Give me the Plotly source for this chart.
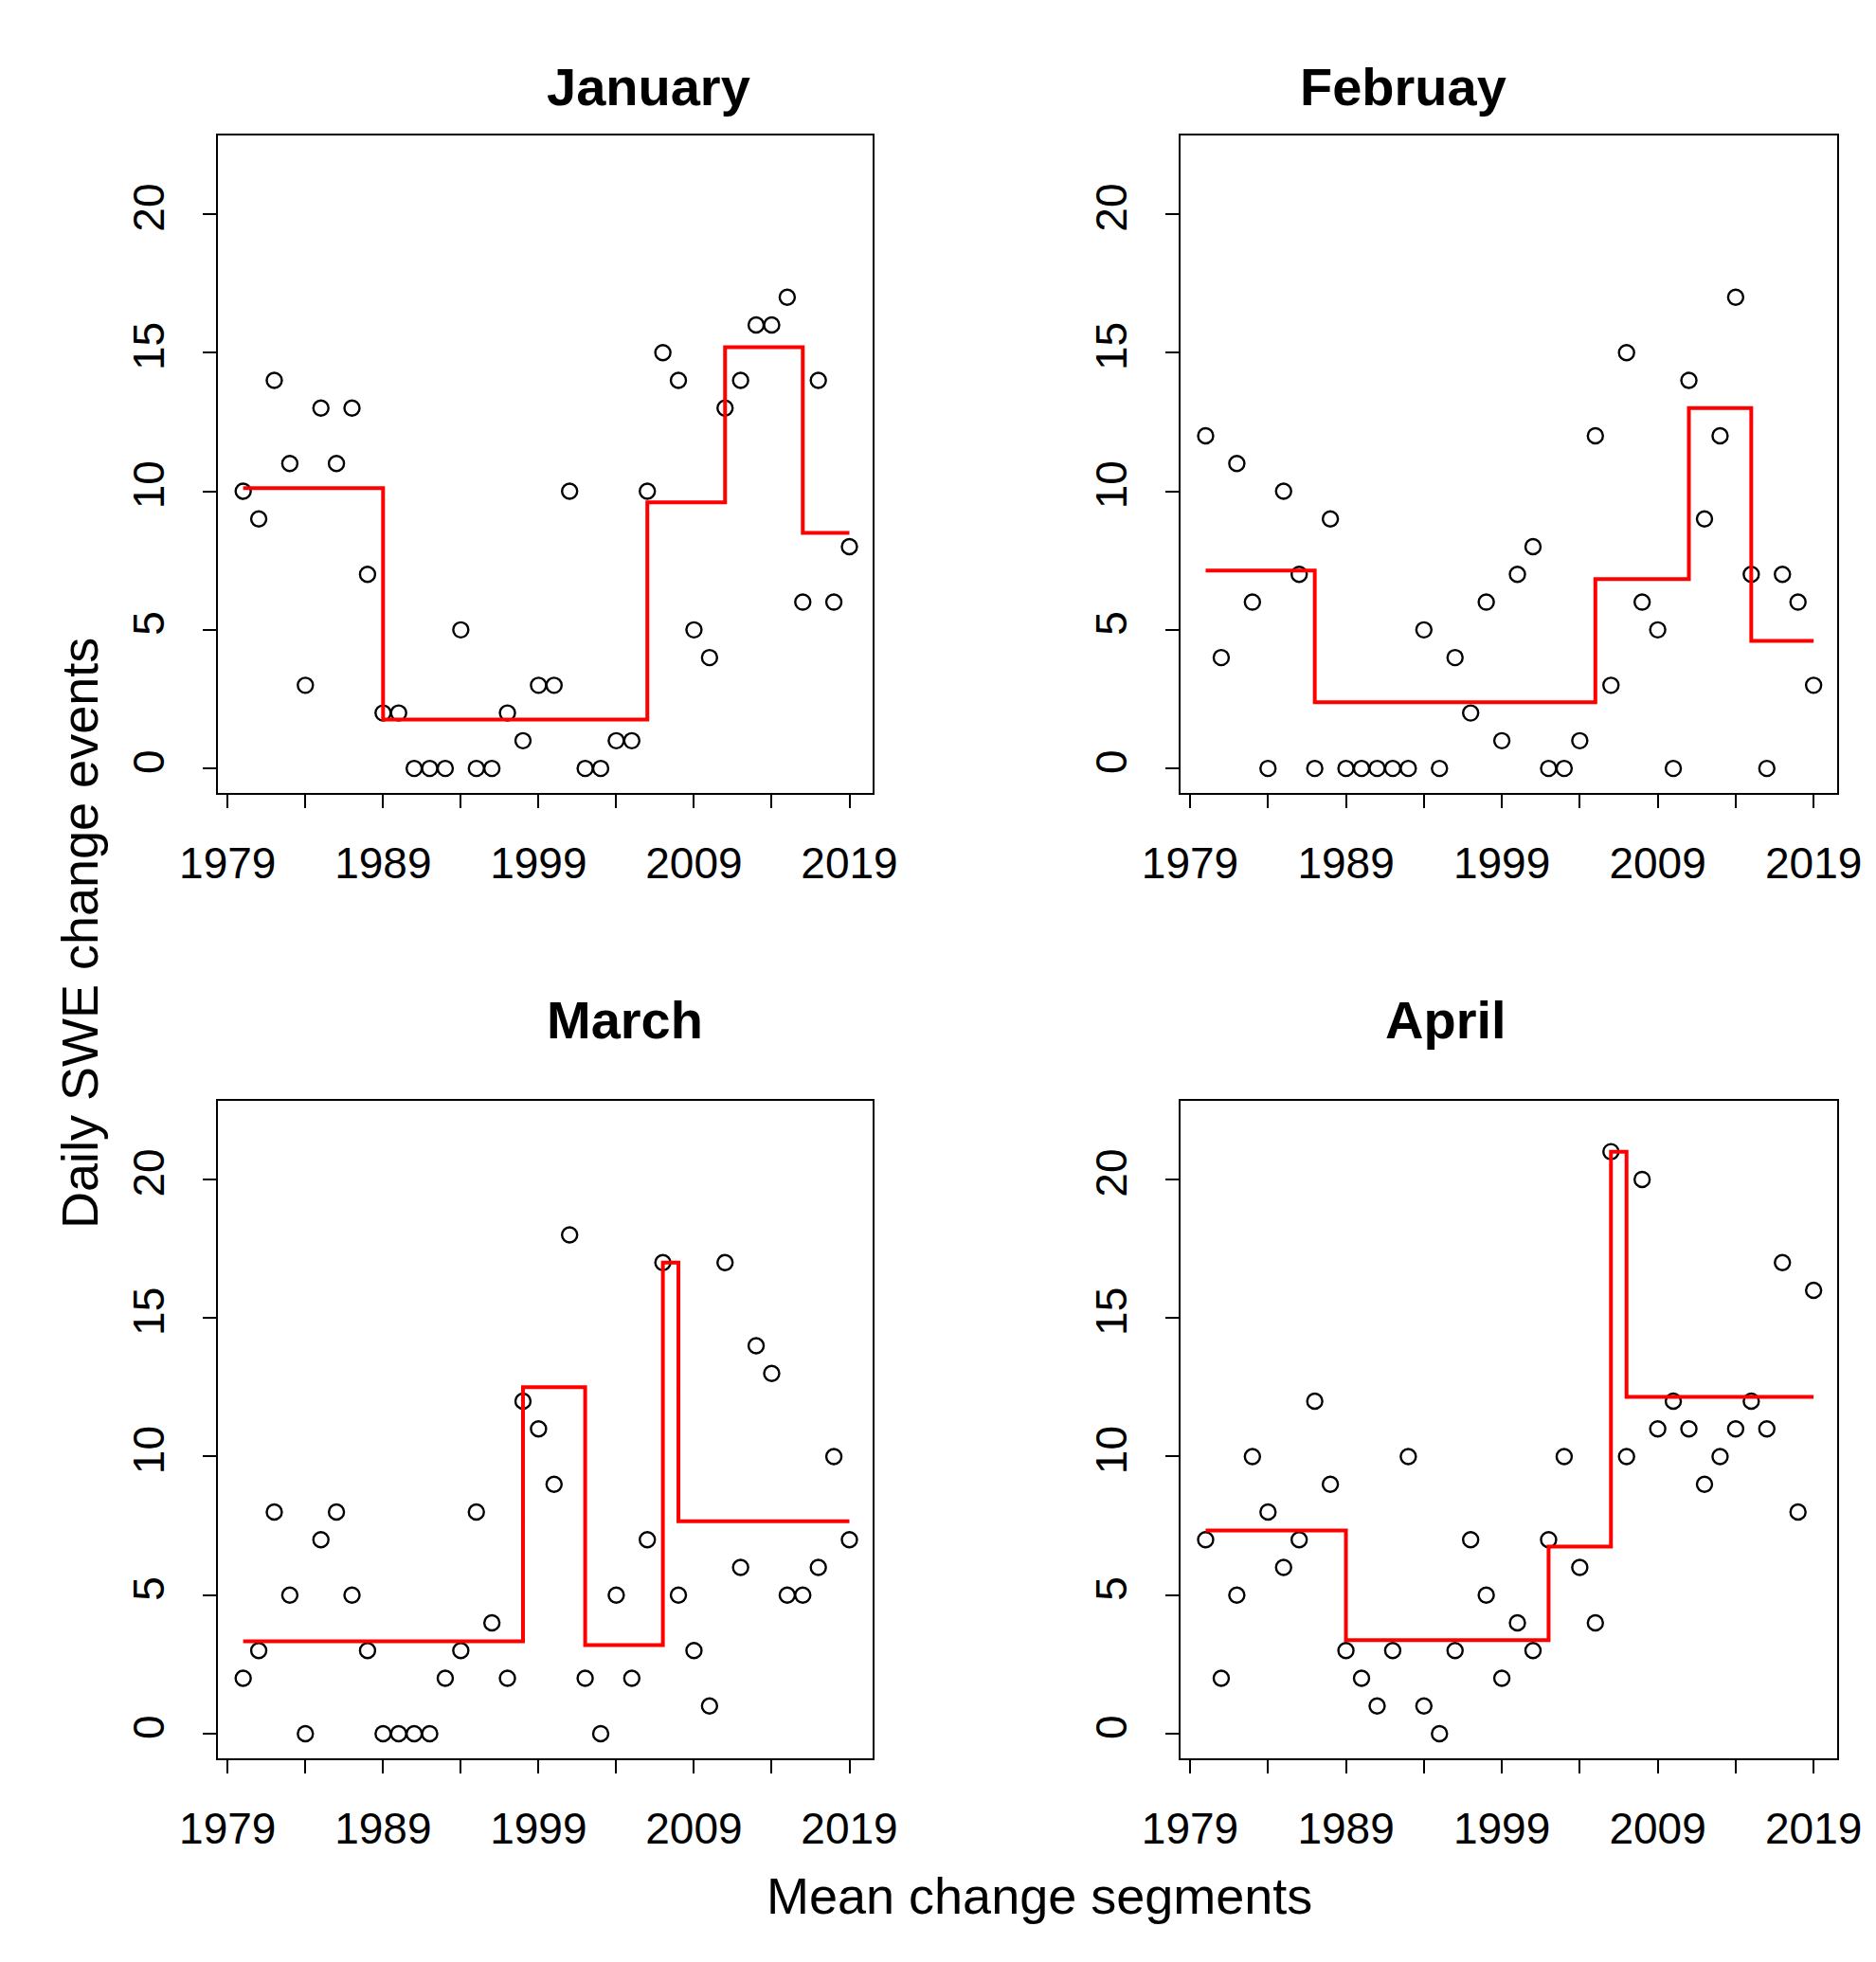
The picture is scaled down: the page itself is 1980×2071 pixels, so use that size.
import plotly.graph_objects as go

years = list(range(1980, 2020))
months = ["January", "Februay", "March", "April"]

jan = [10,9,14,11,3,13,11,13,7,2,2,0,0,0,5,0,0,2,1,3,3,10,0,0,1,1,10,15,14,5,4,13,14,16,16,17,6,14,6,8]
feb = [12,4,11,6,0,10,7,0,9,0,0,0,0,0,5,0,4,2,6,1,7,8,0,0,1,12,3,15,6,5,0,14,9,12,17,7,0,7,6,3]
mar = [2,3,8,5,0,7,8,5,3,0,0,0,0,2,3,8,4,2,12,11,9,18,2,0,5,2,7,17,5,3,1,17,6,14,13,5,5,6,10,7]
apr = [7,2,5,10,8,6,7,12,9,3,2,1,3,10,1,0,3,7,5,2,4,3,7,10,6,4,21,10,20,11,12,11,9,10,11,12,11,17,8,16]

jan_seg_start = [1980, 1989, 2006, 2011, 2016]
jan_seg_level = [10.11, 1.76, 9.6, 15.2, 8.5]
feb_seg_start = [1980, 1987, 2005, 2011, 2015]
feb_seg_level = [7.14, 2.39, 6.83, 13.0, 4.6]
mar_seg_start = [1980, 1998, 2002, 2007, 2008]
mar_seg_level = [3.33, 12.5, 3.2, 17.0, 7.67]
apr_seg_start = [1980, 1989, 2002, 2006, 2007]
apr_seg_level = [7.33, 3.38, 6.75, 21.0, 12.15]

x_ticks = [1979, 1989, 1999, 2009, 2019]
y_ticks = [0, 5, 10, 15, 20]

series = [(jan, jan_seg_start, jan_seg_level), (feb, feb_seg_start, feb_seg_level),
          (mar, mar_seg_start, mar_seg_level), (apr, apr_seg_start, apr_seg_level)]

def fitted(starts, levels):
    out = []
    for y in years:
        lv = levels[0]
        for s, l in zip(starts, levels):
            if y >= s:
                lv = l
        out.append(lv)
    return out

xdom = [(0.112, 0.461), (0.625, 0.975)]
ydom = [(0.5995, 0.935), (0.1075, 0.443)]
FONT = "Liberation Sans, Arial, sans-serif"

fig = go.Figure()
for i, (vals, st, lv) in enumerate(series):
    r, c = divmod(i, 2)
    xa = "x" if i == 0 else f"x{i+1}"
    ya = "y" if i == 0 else f"y{i+1}"
    fig.add_trace(go.Scatter(x=years, y=vals, mode="markers", xaxis=xa, yaxis=ya,
                             marker=dict(symbol="circle-open", size=16, color="black",
                                         line=dict(width=2.4, color="black")),
                             showlegend=False))
    fig.add_trace(go.Scatter(x=years, y=fitted(st, lv), mode="lines", xaxis=xa, yaxis=ya,
                             line=dict(color="red", width=4, shape="hv"), showlegend=False))
    sfx = "" if i == 0 else str(i + 1)
    fig.layout["xaxis" + sfx] = dict(domain=xdom[c], anchor=ya, range=[1978.36, 2020.48],
        tickvals=x_ticks, ticks="outside", ticklen=14, tickwidth=2, tickcolor="black",
        minor=dict(tickvals=[1984, 1994, 2004, 2014], ticks="outside", ticklen=14, tickwidth=2, tickcolor="black"),
        showline=True, mirror=True, linecolor="black", linewidth=2, showgrid=False, zeroline=False,
        automargin=False,
        tickfont=dict(size=46, family=FONT, color="black"), ticklabelstandoff=18)
    fig.layout["yaxis" + sfx] = dict(domain=ydom[r], anchor=xa, range=[-0.9, 22.85],
        tickvals=y_ticks, ticks="outside", ticklen=14, tickwidth=2, tickcolor="black",
        tickangle=-90, showline=True, mirror=True, linecolor="black", linewidth=2,
        showgrid=False, zeroline=False, automargin=False,
        tickfont=dict(size=46, family=FONT, color="black"), ticklabelstandoff=22)
    fig.add_annotation(text=f"<b>{months[i]}</b>", xref="paper", yref="paper",
                       x=sum(xdom[c]) / 2, y=0.976 if r == 0 else 0.484,
                       showarrow=False, font=dict(size=56, family=FONT, color="black"))

fig.add_annotation(text="Daily SWE change events", xref="paper", yref="paper", x=0.022, y=0.528,
                   textangle=-90, showarrow=False, font=dict(size=54, family=FONT, color="black"))
fig.add_annotation(text="Mean change segments", xref="paper", yref="paper", x=0.55, y=0.022,
                   showarrow=False, font=dict(size=54, family=FONT, color="black"))

fig.update_layout(width=1980, height=2071, margin=dict(l=0, r=0, t=0, b=0, autoexpand=False),
                  paper_bgcolor="white", plot_bgcolor="white")
fig.write_html("out.html")
